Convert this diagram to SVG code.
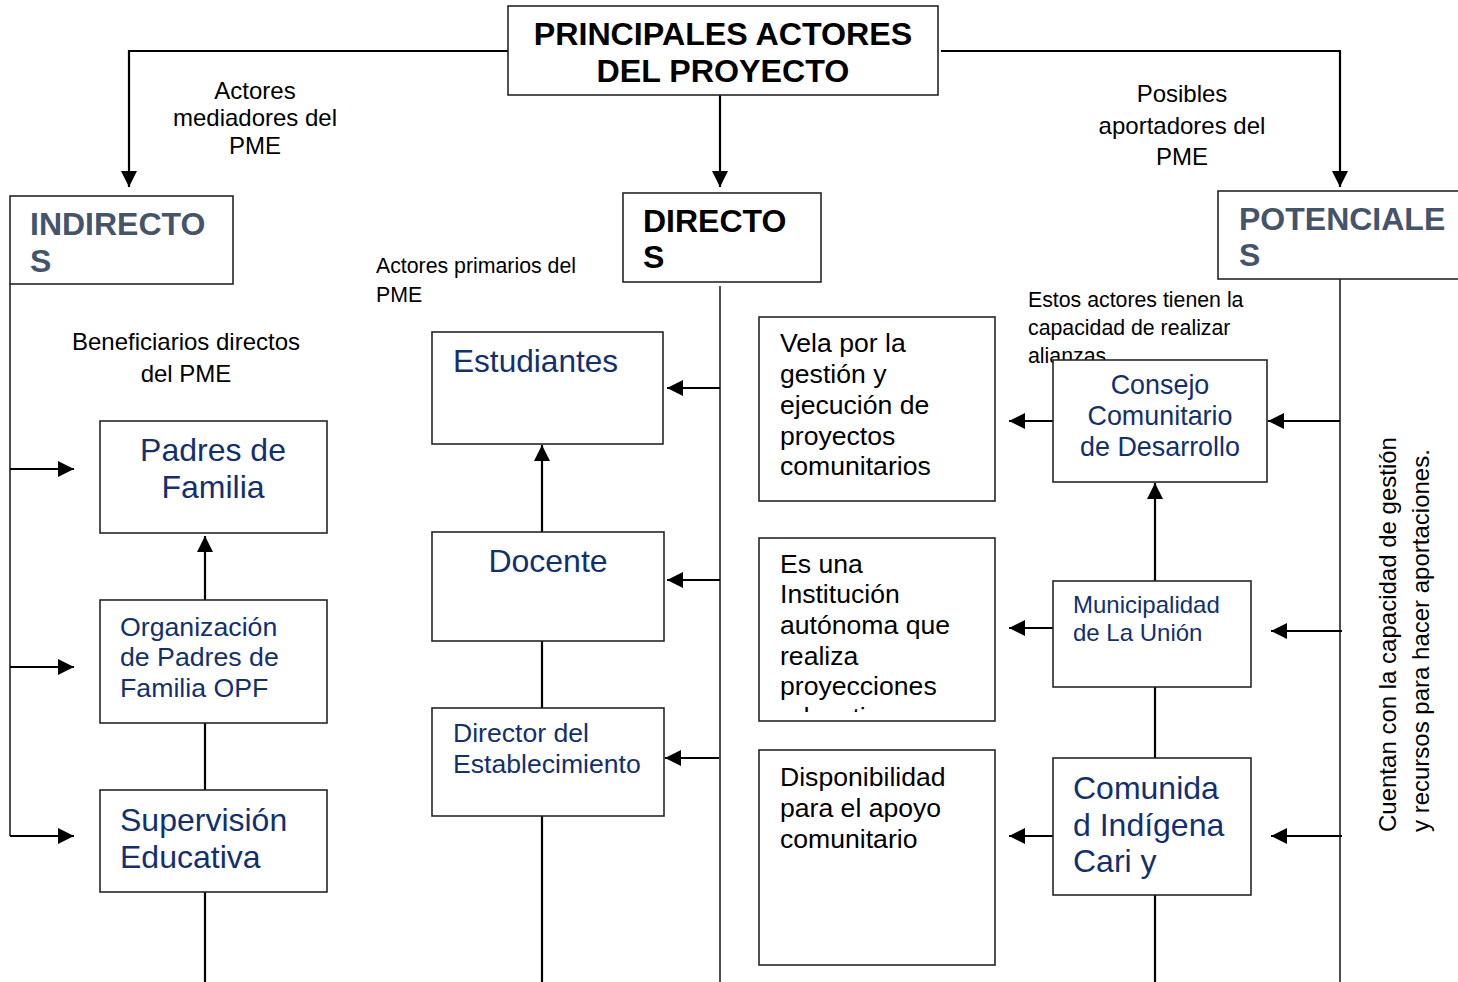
<svg xmlns="http://www.w3.org/2000/svg" width="1458" height="982" viewBox="0 0 1458 982">
<defs>
<style>
.box{fill:#fff;stroke:#262626;stroke-width:1.6}
.ln{fill:none;stroke:#000;stroke-width:2.2}
.thin{fill:none;stroke:#222;stroke-width:1.6}
.t{font-family:"Liberation Sans",Arial,sans-serif}
.title{font-size:32.2px;font-weight:bold;fill:#000}
.head{font-size:32px;font-weight:bold}
.slate{fill:#44546a}
.navy{fill:#12306f}
.lab{font-size:24px;fill:#000}
.small{font-size:21.3px;fill:#000}
.desc{font-size:26.6px;fill:#000}
</style>
<marker id="ah" markerUnits="userSpaceOnUse" markerWidth="17" markerHeight="16" refX="16" refY="8" orient="auto">
<path d="M0,0 L16,8 L0,16 Z" fill="#000"/>
</marker>
<clipPath id="c2"><rect x="759" y="538" width="237" height="174"/></clipPath>
</defs>

<g id="connectors">
<polyline class="ln" points="508,51 129,51 129,187" marker-end="url(#ah)"/>
<polyline class="ln" points="941,51 1340,51 1340,187" marker-end="url(#ah)"/>
<line class="ln" x1="720" y1="95" x2="720" y2="187" marker-end="url(#ah)"/>
<line class="thin" x1="10" y1="284" x2="10" y2="836"/>
<line class="ln" x1="10" y1="469" x2="74" y2="469" marker-end="url(#ah)"/>
<line class="ln" x1="10" y1="667" x2="74" y2="667" marker-end="url(#ah)"/>
<line class="ln" x1="10" y1="836" x2="74" y2="836" marker-end="url(#ah)"/>
<line class="ln" x1="205" y1="600" x2="205" y2="536" marker-end="url(#ah)"/>
<line class="ln" x1="205" y1="723" x2="205" y2="790"/>
<line class="ln" x1="205" y1="892" x2="205" y2="982"/>
<line class="thin" x1="720" y1="286" x2="720" y2="982"/>
<line class="ln" x1="720" y1="388" x2="667" y2="388" marker-end="url(#ah)"/>
<line class="ln" x1="720" y1="580" x2="667" y2="580" marker-end="url(#ah)"/>
<line class="ln" x1="719" y1="758" x2="665" y2="758" marker-end="url(#ah)"/>
<line class="ln" x1="542" y1="532" x2="542" y2="445" marker-end="url(#ah)"/>
<line class="ln" x1="542" y1="641" x2="542" y2="708"/>
<line class="ln" x1="542" y1="816" x2="542" y2="982"/>
<line class="thin" x1="1340" y1="279" x2="1340" y2="982"/>
<line class="ln" x1="1340" y1="421" x2="1268" y2="421" marker-end="url(#ah)"/>
<line class="ln" x1="1342" y1="631" x2="1271" y2="631" marker-end="url(#ah)"/>
<line class="ln" x1="1342" y1="836" x2="1271" y2="836" marker-end="url(#ah)"/>
<line class="ln" x1="1053" y1="421" x2="1009" y2="421" marker-end="url(#ah)"/>
<line class="ln" x1="1053" y1="628" x2="1009" y2="628" marker-end="url(#ah)"/>
<line class="ln" x1="1053" y1="836" x2="1009" y2="836" marker-end="url(#ah)"/>
<line class="ln" x1="1155" y1="581" x2="1155" y2="483" marker-end="url(#ah)"/>
<line class="ln" x1="1155" y1="687" x2="1155" y2="758"/>
<line class="ln" x1="1155" y1="895" x2="1155" y2="982"/>
</g>

<g id="labels" class="t">
<text class="lab" text-anchor="middle"><tspan x="255" y="99">Actores</tspan><tspan x="255" y="126">mediadores del</tspan><tspan x="255" y="154">PME</tspan></text>
<text class="lab" text-anchor="middle"><tspan x="1182" y="102">Posibles</tspan><tspan x="1182" y="134">aportadores del</tspan><tspan x="1182" y="165">PME</tspan></text>
<text class="lab" text-anchor="middle"><tspan x="186" y="350">Beneficiarios directos</tspan><tspan x="186" y="382">del PME</tspan></text>
<text class="small"><tspan x="376" y="273">Actores primarios del</tspan><tspan x="376" y="302">PME</tspan></text>
<text class="small"><tspan x="1028" y="307">Estos actores tienen la</tspan><tspan x="1028" y="335">capacidad de realizar</tspan><tspan x="1028" y="363">alianzas</tspan></text>
<text class="lab" transform="translate(1396,832) rotate(-90)"><tspan x="0" y="0">Cuentan con la capacidad de gestión</tspan><tspan x="0" y="33">y recursos para hacer aportaciones.</tspan></text>
</g>

<g id="title" class="t">
<rect class="box" x="508" y="6" width="430" height="89"/>
<text class="title" text-anchor="middle"><tspan x="723" y="45">PRINCIPALES ACTORES</tspan><tspan x="723" y="82">DEL PROYECTO</tspan></text>
</g>
<g id="indirectos" class="t">
<rect class="box" x="10" y="196" width="223" height="88"/>
<text class="head slate"><tspan x="30" y="235">INDIRECTO</tspan><tspan x="30" y="272">S</tspan></text>
</g>
<g id="directos" class="t">
<rect class="box" x="623" y="193" width="198" height="89"/>
<text class="head" fill="#000"><tspan x="643" y="232">DIRECTO</tspan><tspan x="643" y="268">S</tspan></text>
</g>
<g id="potenciales" class="t">
<rect class="box" x="1218" y="191" width="245" height="88"/>
<text class="head slate"><tspan x="1239" y="230">POTENCIALE</tspan><tspan x="1239" y="266">S</tspan></text>
</g>

<g id="padres" class="t">
<rect class="box" x="100" y="421" width="227" height="112"/>
<text class="navy" font-size="32" text-anchor="middle"><tspan x="213" y="461">Padres de</tspan><tspan x="213" y="498">Familia</tspan></text>
</g>
<g id="opf" class="t">
<rect class="box" x="100" y="600" width="227" height="123"/>
<text class="navy" font-size="26.7"><tspan x="120" y="636">Organización</tspan><tspan x="120" y="666">de Padres de</tspan><tspan x="120" y="697">Familia OPF</tspan></text>
</g>
<g id="supervision" class="t">
<rect class="box" x="100" y="790" width="227" height="102"/>
<text class="navy" font-size="32"><tspan x="120" y="831">Supervisión</tspan><tspan x="120" y="868">Educativa</tspan></text>
</g>

<g id="estudiantes" class="t">
<rect class="box" x="432" y="332" width="231" height="112"/>
<text class="navy" font-size="31.6" x="453" y="372">Estudiantes</text>
</g>
<g id="docente" class="t">
<rect class="box" x="432" y="532" width="232" height="109"/>
<text class="navy" font-size="32" x="548" y="572" text-anchor="middle">Docente</text>
</g>
<g id="director" class="t">
<rect class="box" x="432" y="708" width="232" height="108"/>
<text class="navy" font-size="26.6"><tspan x="453" y="742">Director del</tspan><tspan x="453" y="773">Establecimiento</tspan></text>
</g>

<g id="desc1" class="t">
<rect class="box" x="759" y="317" width="236" height="184"/>
<text class="desc"><tspan x="780" y="352">Vela por la</tspan><tspan x="780" y="383">gestión y</tspan><tspan x="780" y="414">ejecución de</tspan><tspan x="780" y="445">proyectos</tspan><tspan x="780" y="475">comunitarios</tspan></text>
</g>
<g id="desc2" class="t">
<rect class="box" x="759" y="538" width="236" height="183"/>
<text class="desc" clip-path="url(#c2)"><tspan x="780" y="573">Es una</tspan><tspan x="780" y="603">Institución</tspan><tspan x="780" y="634">autónoma que</tspan><tspan x="780" y="665">realiza</tspan><tspan x="780" y="695">proyecciones</tspan><tspan x="780" y="726">educativas</tspan></text>
</g>
<g id="desc3" class="t">
<rect class="box" x="759" y="750" width="236" height="215"/>
<text class="desc"><tspan x="780" y="786">Disponibilidad</tspan><tspan x="780" y="817">para el apoyo</tspan><tspan x="780" y="848">comunitario</tspan></text>
</g>

<g id="consejo" class="t">
<rect class="box" x="1053" y="360" width="214" height="122"/>
<text class="navy" font-size="26.9" text-anchor="middle"><tspan x="1160" y="394">Consejo</tspan><tspan x="1160" y="425">Comunitario</tspan><tspan x="1160" y="456">de Desarrollo</tspan></text>
</g>
<g id="municipalidad" class="t">
<rect class="box" x="1053" y="581" width="198" height="106"/>
<text class="navy" font-size="24"><tspan x="1073" y="613">Municipalidad</tspan><tspan x="1073" y="641">de La Unión</tspan></text>
</g>
<g id="comunidad" class="t">
<rect class="box" x="1053" y="758" width="198" height="137"/>
<text class="navy" font-size="32"><tspan x="1073" y="799">Comunida</tspan><tspan x="1073" y="836">d Indígena</tspan><tspan x="1073" y="872">Cari y</tspan></text>
</g>
</svg>
